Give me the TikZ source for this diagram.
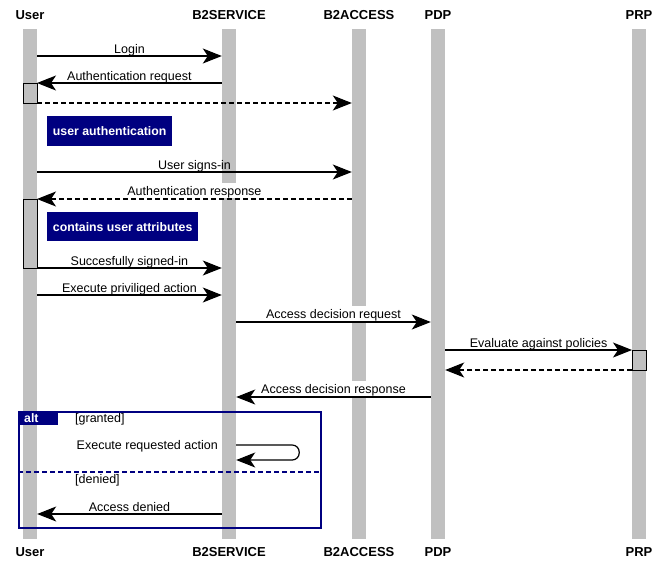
\documentclass[tikz,border=0pt]{standalone}
\usepackage{fontspec}
\setmainfont{Liberation Sans}
\usepackage{tikz}
\usetikzlibrary{calc,arrows.meta,positioning}
\definecolor{lifegray}{HTML}{C0C0C0}
\definecolor{navy}{HTML}{000080}
\newcommand{\msgfont}{\fontsize{12.5}{14}\selectfont}
\tikzset{
  actor/.style={font=\fontsize{13}{15}\selectfont\bfseries, inner sep=0pt, anchor=base},
  lifeline/.style={fill=lifegray, minimum width=14pt, minimum height=510pt, inner sep=0pt, anchor=north},
  activation/.style={draw, fill=lifegray, line width=0.8pt, minimum width=14pt, inner sep=0pt,
                     outer sep=0pt, anchor=north},
  msg/.style={line width=1.2pt, -{Stealth[length=19pt,width=15pt,inset=5pt]}},
  reply/.style={msg, dash pattern=on 5pt off 3pt},
  msglabel/.style={font=\msgfont, inner sep=0pt, anchor=base, yshift=3pt},
  gaplabel/.style={font=\msgfont, fill=white, inner xsep=1pt, inner ysep=0pt,
                   text height=12pt, text depth=2.6pt, anchor=south, yshift=0.6pt},
  notebox/.style={fill=navy, text=white, font=\fontsize{12.3}{14}\selectfont\bfseries,
                  inner sep=0pt, anchor=north west},
  guard/.style={font=\msgfont, inner sep=0pt, anchor=base west}
}

\begin{document}
\begin{tikzpicture}[x=1pt, y=-1pt]
  \useasboundingbox (0,0) rectangle (661,563);
  \foreach \name/\txt/\x in {user/User/30, svc/B2SERVICE/229, acc/B2ACCESS/359,
                             pdp/PDP/438, prp/PRP/639} {
    \node[actor] (\name-top) at (\x,19) {\txt};
    \node[actor] (\name-bot) at (\x,556) {\txt};
    \node[lifeline] (\name) at (\x,29) {};
  }

  \node[activation, minimum height=20pt] (act1) at (30,83) {};
  \node[activation, minimum height=69pt] (act2) at (30,199) {};
  \node[activation, minimum height=20pt] (act3) at (639,350) {};

  \node[notebox, minimum width=125pt, minimum height=30pt] (note1) at (47,116) {user authentication};
  \node[notebox, minimum width=151pt, minimum height=29pt] (note2) at (47,212) {contains user attributes};

  \draw[msg] (user.east |- 0,56) -- node[msglabel] {Login} (svc.west |- 0,56);
  \draw[msg] (svc.west |- 0,83) -- node[msglabel] {Authentication request} (act1.north east);
  \draw[reply] (act1.south east) -- (acc.west |- act1.south);
  \draw[msg] (user.east |- 0,172) -- node[msglabel] {User signs-in} (acc.west |- 0,172);
  \draw[reply] (acc.west |- 0,199) -- node[gaplabel] {Authentication response} (act2.north east);
  \draw[msg] (act2.south east) -- node[msglabel] {Succesfully signed-in} (svc.west |- act2.south);
  \draw[msg] (user.east |- 0,295) -- node[msglabel] {Execute priviliged action} (svc.west |- 0,295);
  \draw[msg] (svc.east |- 0,322) -- node[gaplabel] {Access decision request} (pdp.west |- 0,322);
  \draw[msg] (pdp.east |- 0,350) -- node[msglabel] {Evaluate against policies} (act3.north west);
  \draw[reply] (act3.south west) -- (pdp.east |- act3.south);
  \draw[msg] (pdp.west |- 0,397) -- node[gaplabel] {Access decision response} (svc.east |- 0,397);

  \node[draw=navy, line width=1.6pt, minimum width=302pt, minimum height=116pt,
        inner sep=0pt, anchor=north west] (alt) at (18,411) {};
  \node[fill=navy, text=white, font=\fontsize{12.3}{14}\selectfont\bfseries, anchor=north west,
        text width=28pt, inner xsep=6pt, inner ysep=0pt, minimum height=14pt] (alttab) at (alt.north west) {alt};
  \node[guard] (granted) at (75,422) {[granted]};
  \node[font=\msgfont, inner sep=0pt, anchor=base east] (execlbl) at (218,449) {Execute requested action};
  \draw[msg, rounded corners=7pt] (svc.east |- 0,445) -- ++(63,0) -- ++(0,15) -- (svc.east |- 0,460);
  \draw[navy, line width=1.6pt, dash pattern=on 5pt off 3pt] (alt.west |- 0,472) -- (alt.east |- 0,472);
  \node[guard] (denied) at (75,483) {[denied]};
  \draw[msg] (svc.west |- 0,514) -- node[msglabel] {Access denied} (user.east |- 0,514);
\end{tikzpicture}
\end{document}
